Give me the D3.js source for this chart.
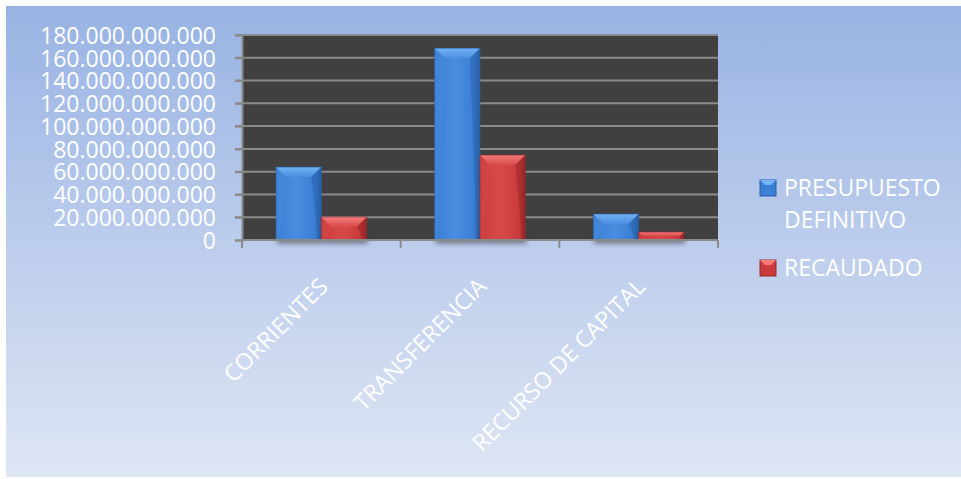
<!DOCTYPE html>
<html>
<head>
<meta charset="utf-8">
<script src="https://cdn.jsdelivr.net/npm/d3@7"></script>
<style>
  body { margin: 0; background: #fff; }
  svg { display: block; }
</style>
</head>
<body>
<svg id="chart"></svg>
<script>
// data
const categories = ["CORRIENTES", "TRANSFERENCIA", "RECURSO DE CAPITAL"];
const series = ["PRESUPUESTO DEFINITIVO", "RECAUDADO"];
const presupuesto = [64000000000, 168400000000, 22800000000];
const recaudado = [20200000000, 74600000000, 7000000000];
const yTicks = [0, 20e9, 40e9, 60e9, 80e9, 100e9, 120e9, 140e9, 160e9, 180e9];
const legendLines = [["PRESUPUESTO", "DEFINITIVO"], ["RECAUDADO"]];

const width = 961, height = 479;
const plot = { left: 242, right: 718, top: 35, bottom: 240 };
const font = "'Open Sans', sans-serif";

const svg = d3.select("#chart").attr("width", width).attr("height", height);
const defs = svg.append("defs");

// background gradient
const bg = defs.append("linearGradient").attr("id", "bg")
  .attr("x1", 0).attr("y1", 0).attr("x2", 0).attr("y2", 1);
bg.append("stop").attr("offset", "0%").attr("stop-color", "#98b3e3");
bg.append("stop").attr("offset", "100%").attr("stop-color", "#dfe6f4");

svg.append("rect").attr("x", 6).attr("y", 6).attr("width", width - 6).attr("height", height - 8)
  .attr("fill", "url(#bg)");

// bar colours: base, light, dark
const palette = [
  { base: "#3b7fd5", light: "#72b2f5", mid: "#4a8ee0", dark: "#285fa8" },
  { base: "#cb3b3b", light: "#f47a7a", mid: "#d84a4a", dark: "#952828" }
];
palette.forEach((p, i) => {
  const g = defs.append("linearGradient").attr("id", "body" + i)
    .attr("x1", 0).attr("y1", 0).attr("x2", 1).attr("y2", 0);
  g.append("stop").attr("offset", "0%").attr("stop-color", p.base);
  g.append("stop").attr("offset", "45%").attr("stop-color", p.mid);
  g.append("stop").attr("offset", "85%").attr("stop-color", p.base);
  g.append("stop").attr("offset", "100%").attr("stop-color", p.dark);
  const t = defs.append("linearGradient").attr("id", "top" + i)
    .attr("x1", 0).attr("y1", 0).attr("x2", 0).attr("y2", 1);
  t.append("stop").attr("offset", "0%").attr("stop-color", p.light);
  t.append("stop").attr("offset", "100%").attr("stop-color", p.mid);
});

const blur = defs.append("filter").attr("id", "shadow")
  .attr("x", "-20%").attr("y", "-100%").attr("width", "140%").attr("height", "300%");
blur.append("feGaussianBlur").attr("stdDeviation", 2.5);

const x0 = d3.scaleBand().domain(categories).range([plot.left, plot.right]).paddingInner(0).paddingOuter(0);
const barW = x0.bandwidth() / 3.5;
const x1 = d3.scaleBand().domain(series).range([0, barW * 2]);
const y = d3.scaleLinear().domain([0, 180e9]).range([plot.bottom, plot.top]);

// plot area
svg.append("rect").attr("x", plot.left).attr("y", plot.top)
  .attr("width", plot.right - plot.left).attr("height", plot.bottom - plot.top)
  .attr("fill", "#404040");

// gridlines
svg.append("g").selectAll("line").data(yTicks.slice(1)).join("line")
  .attr("x1", plot.left - 7).attr("x2", plot.right)
  .attr("y1", d => y(d)).attr("y2", d => y(d))
  .attr("stroke", "#8a8a8a").attr("stroke-width", 2);

// y axis
const yAxis = svg.append("g").attr("transform", `translate(${plot.left},0)`)
  .call(d3.axisLeft(y).tickValues(yTicks).tickSize(7).tickPadding(19)
    .tickFormat(d => d3.format(",")(d).replace(/,/g, ".")));
yAxis.select(".domain").attr("stroke", "#8a8a8a").attr("stroke-width", 2);
yAxis.selectAll(".tick line").attr("stroke", "#8a8a8a").attr("stroke-width", 2);
yAxis.selectAll(".tick text").attr("fill", "#fff").attr("font-family", font)
  .attr("font-size", 23).attr("dy", "0.36em");

// bars
const data = categories.map((c, i) => ({ cat: c, vals: [presupuesto[i], recaudado[i]] }));
const groups = svg.append("g").selectAll("g").data(data).join("g")
  .attr("transform", d => `translate(${x0(d.cat) + (x0.bandwidth() - barW * 2) / 2},0)`);

groups.each(function(d) {
  const g = d3.select(this);
  d.vals.forEach((v, i) => {
    const bx = x1(series[i]), bw = x1.bandwidth();
    const by = y(v), bh = y(0) - y(v);
    const b = Math.min(10, bh / 2, bw / 2);
    const p = palette[i];
    g.append("rect").attr("x", bx + 1).attr("y", y(0) - 2).attr("width", bw).attr("height", 5)
      .attr("fill", "#1a1a1a").attr("opacity", 0.6).attr("filter", "url(#shadow)");
    g.append("rect").attr("x", bx).attr("y", by).attr("width", bw).attr("height", bh)
      .attr("fill", `url(#body${i})`);
    // bevels
    g.append("polygon")
      .attr("points", [[bx, by], [bx + bw, by], [bx + bw - b, by + b], [bx + b, by + b]].join(" "))
      .attr("fill", `url(#top${i})`);
    g.append("polygon")
      .attr("points", [[bx + bw, by], [bx + bw, by + bh], [bx + bw - 3, by + bh], [bx + bw - b, by + b]].join(" "))
      .attr("fill", p.dark).attr("opacity", 0.5);
    g.append("polygon")
      .attr("points", [[bx, by], [bx + b, by + b], [bx + 3, by + bh], [bx, by + bh]].join(" "))
      .attr("fill", p.mid).attr("opacity", 0.4);
    g.append("rect").attr("x", bx).attr("y", by).attr("width", bw).attr("height", bh)
      .attr("fill", "none").attr("stroke", p.dark).attr("stroke-width", 1).attr("opacity", 0.6);
  });
});

// x axis
const xAxis = svg.append("g").attr("transform", `translate(0,${plot.bottom})`);
xAxis.append("line").attr("x1", plot.left).attr("x2", plot.right)
  .attr("stroke", "#8a8a8a").attr("stroke-width", 2);
const xTickPos = [plot.left, ...categories.map(c => x0(c) + x0.bandwidth())];
xAxis.selectAll(".xt").data(xTickPos).join("line").attr("class", "xt")
  .attr("x1", d => d).attr("x2", d => d).attr("y1", 0).attr("y2", 8)
  .attr("stroke", "#8a8a8a").attr("stroke-width", 2);
xAxis.selectAll("text").data(categories).join("text")
  .attr("transform", d => `translate(${x0(d) + x0.bandwidth() / 2 + 8},48) rotate(-45)`)
  .attr("text-anchor", "end")
  .attr("fill", "#fff").attr("font-family", font).attr("font-size", 23)
  .text(d => d);

// legend
const legend = svg.append("g");
const legendY = [196, 276];
legendLines.forEach((lines, i) => {
  const p = palette[i];
  const lx = 760, ly = legendY[i] - 16, s = 16, b = 5;
  legend.append("rect").attr("x", lx).attr("y", ly).attr("width", s).attr("height", s).attr("fill", p.base)
    .attr("stroke", p.dark).attr("stroke-width", 1);
  legend.append("polygon")
    .attr("points", [[lx, ly], [lx + s, ly], [lx + s - b, ly + b], [lx + b, ly + b]].join(" "))
    .attr("fill", p.light);
  lines.forEach((t, j) => {
    legend.append("text").attr("x", 784).attr("y", legendY[i] + j * 32)
      .attr("fill", "#fff").attr("font-family", font).attr("font-size", 23)
      .text(t);
  });
});
</script>
</body>
</html>
